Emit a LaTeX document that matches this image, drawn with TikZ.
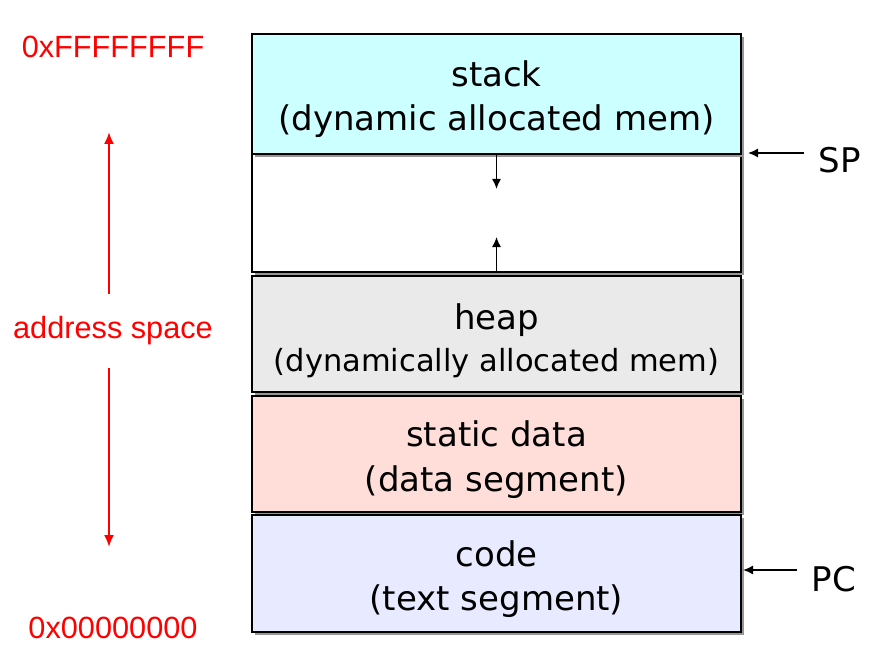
\documentclass[tikz,border=0pt]{standalone}
\usepackage{fontspec}
\setmainfont{DejaVu Sans}
\newfontfamily\addrfont{Liberation Sans}
\usepackage{tikz}
\usetikzlibrary{arrows.meta,shadows}

\definecolor{stackcol}{RGB}{204,255,255}
\definecolor{heapcol}{RGB}{234,234,234}
\definecolor{datacol}{RGB}{255,222,218}
\definecolor{codecol}{RGB}{232,234,255}
\definecolor{shadowcol}{RGB}{150,150,150}

\tikzset{
  seg/.style={draw,line width=1.3pt,minimum width=489pt,inner sep=0pt,
    drop shadow={shadow xshift=3pt,shadow yshift=-3pt,fill=shadowcol,opacity=1}},
  segtext/.style={anchor=base,inner sep=0pt,font=\fontsize{34}{40}\selectfont},
  addr/.style={text=red,font=\addrfont\fontsize{30.7}{36}\selectfont,inner sep=0pt},
  reg/.style={font=\fontsize{34}{40}\selectfont,inner sep=0pt},
  ptr/.style={-{Latex[length=10pt,width=9pt]},line width=1.5pt},
  addrptr/.style={-{Latex[length=12pt,width=10pt]},red,line width=2pt}
}

\begin{document}
\begin{tikzpicture}[x=1pt,y=-1pt]
  \useasboundingbox (0,0) rectangle (883,671);
  % memory segments, top = high addresses
  \node[seg,fill=white,minimum height=118pt] (seg-2) at (496.5,213) {};
  \node[seg,fill=stackcol,minimum height=120pt] (seg-1) at (496.5,94) {};
  \node[seg,fill=heapcol,minimum height=116pt] (seg-3) at (496.5,334) {};
  \node[seg,fill=datacol,minimum height=116pt] (seg-4) at (496.5,454) {};
  \node[seg,fill=codecol,minimum height=117pt] (seg-5) at (496.5,573.5) {};
  \node[segtext] (txt-1) at (496.5,86.5) {stack};
  \node[segtext] (sub-1) at (496.5,131) {(dynamic allocated mem)};
  \node[segtext] (txt-3) at (496.5,329) {heap};
  \node[segtext,font=\fontsize{30.5}{36}\selectfont] (sub-3) at (496.5,371)
    {(dynamically allocated mem)};
  \node[segtext] (txt-4) at (496.5,446) {static data};
  \node[segtext] (sub-4) at (496.5,491) {(data segment)};
  \node[segtext] (txt-5) at (496.5,566) {code};
  \node[segtext] (sub-5) at (496.5,610) {(text segment)};
  \coordinate (grow-1) at (496.5,189);
  \coordinate (grow-2) at (496.5,237);
  \draw[ptr] (seg-1.south) -- (grow-1);
  \draw[ptr] (seg-2.south) -- (grow-2);
  % registers
  \node[reg] (SP) at (840,160) {SP};
  \node[reg] (PC) at (834,579) {PC};
  \coordinate (SP-1) at (804,153);
  \coordinate (SP-2) at (748,153);
  \coordinate (PC-1) at (797,570);
  \coordinate (PC-2) at (743,570);
  \draw[ptr] (SP-1) -- (SP-2);
  \draw[ptr] (PC-1) -- (PC-2);
  % address range
  \node[addr] (A-hi) at (113,47) {0xFFFFFFFF};
  \node[addr] (A-lo) at (113,628) {0x00000000};
  \node[addr,minimum height=74pt] (A-sp) at (113,331) {address space};
  \coordinate (A-1) at (109,132);
  \coordinate (A-2) at (109,547);
  \draw[addrptr] (A-sp.north -| A-1) -- (A-1);
  \draw[addrptr] (A-sp.south -| A-2) -- (A-2);
\end{tikzpicture}
\end{document}
